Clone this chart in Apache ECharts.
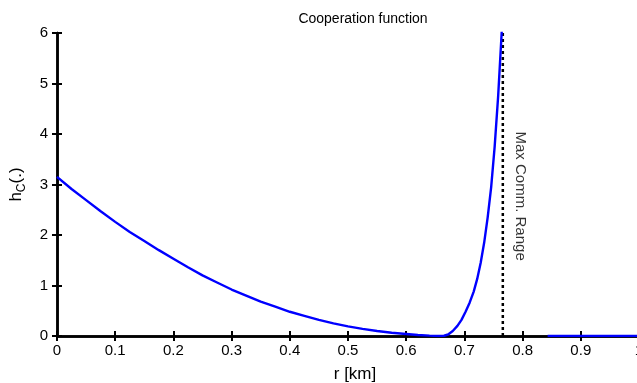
<!DOCTYPE html>
<html>
<head>
<meta charset="utf-8">
<style>html,body{margin:0;padding:0;background:#fff;}#chart{width:637px;height:383px;}</style>
<script src="https://cdn.jsdelivr.net/npm/echarts@6/dist/echarts.min.js"></script>
</head>
<body>
<div id="chart"></div>
<script>
// r [km] values and cooperation function h_C(.)
const rValues = [0, 0.025, 0.05, 0.075, 0.1, 0.125, 0.15, 0.175, 0.2, 0.225, 0.25, 0.275, 0.3, 0.325, 0.35, 0.375, 0.4, 0.425, 0.45, 0.475, 0.5, 0.525, 0.55, 0.575, 0.6, 0.62, 0.64, 0.655, 0.665, 0.672, 0.68, 0.688, 0.695, 0.702, 0.709, 0.716, 0.722, 0.728, 0.734, 0.74, 0.746, 0.752, 0.758, 0.764, 0.772, 0.8, 0.843, 1.0];
const hValues = [3.15, 2.91, 2.69, 2.47, 2.26, 2.06, 1.88, 1.70, 1.53, 1.36, 1.20, 1.06, 0.92, 0.80, 0.68, 0.58, 0.48, 0.40, 0.32, 0.25, 0.19, 0.14, 0.10, 0.065, 0.04, 0.02, 0.007, 0.001, 0.005, 0.03, 0.10, 0.20, 0.32, 0.48, 0.66, 0.88, 1.13, 1.45, 1.85, 2.35, 2.95, 3.75, 4.75, 6.0, 7.6, null, 0, 0];
const maxCommRange = 0.766;
const rangeLabelPos = [0.7955, 2.77];
const xTicks = [0, 0.1, 0.2, 0.3, 0.4, 0.5, 0.6, 0.7, 0.8, 0.9, 1];
const yTicks = [0, 1, 2, 3, 4, 5, 6];

const font = 'Liberation Sans, Arial, Helvetica, sans-serif';
const curve = rValues.map((r, i) => [r, hValues[i]]);

const chart = echarts.init(document.getElementById('chart'), null, {renderer: 'canvas'});
const axisLine = {show: true, lineStyle: {color: '#000', width: 2.5}};
const axisTick = {show: true, inside: true, length: 5, lineStyle: {color: '#000', width: 2}};
chart.setOption({
  animation: false,
  backgroundColor: '#fff',
  title: {
    text: 'Cooperation function',
    left: 358, top: 7, textAlign: 'center',
    textStyle: {fontFamily: font, fontSize: 14, fontWeight: 'normal', color: '#000'}
  },
  grid: {left: 57, right: -2, top: 33, bottom: 47, containLabel: false, outerBoundsMode: 'none'},
  xAxis: [{
    type: 'value', min: xTicks[0], max: xTicks[xTicks.length - 1], interval: 0.1,
    position: 'bottom',
    axisLine, axisTick, splitLine: {show: false},
    axisLabel: {fontFamily: font, fontSize: 15, color: '#000', margin: 7, showMinLabel: true, showMaxLabel: true},
    name: 'r [km]', nameLocation: 'middle', nameGap: 30,
    nameTextStyle: {fontFamily: font, fontSize: 17, color: '#000', padding: [0, 0, 0, 14]}
  }, {
    type: 'value', min: xTicks[0], max: xTicks[xTicks.length - 1], interval: 0.1,
    position: 'top',
    axisLine, axisTick, axisLabel: {show: false}, splitLine: {show: false}
  }],
  yAxis: [{
    type: 'value', min: yTicks[0], max: yTicks[yTicks.length - 1], interval: 1,
    position: 'left',
    axisLine, axisTick, splitLine: {show: false},
    axisLabel: {fontFamily: font, fontSize: 15, color: '#000', margin: 9},
    name: '{a|h}{b|C}{a|(.)}', nameLocation: 'middle', nameGap: 29, nameRotate: 90,
    nameTextStyle: {
      color: '#000',
      rich: {
        a: {fontFamily: font, fontSize: 17, color: '#000', lineHeight: 24, verticalAlign: 'middle'},
        b: {fontFamily: font, fontSize: 12, color: '#000', lineHeight: 12, verticalAlign: 'bottom'}
      }
    }
  }, {
    type: 'value', min: yTicks[0], max: yTicks[yTicks.length - 1], interval: 1,
    position: 'right',
    axisLine, axisTick, axisLabel: {show: false}, splitLine: {show: false}
  }],
  series: [{
    type: 'line',
    data: curve,
    showSymbol: false,
    connectNulls: false,
    clip: true,
    smooth: false,
    lineStyle: {color: '#0000ff', width: 2.4},
    z: 3
  }, {
    type: 'line',
    data: [[maxCommRange, yTicks[0]], [maxCommRange, yTicks[yTicks.length - 1]]],
    showSymbol: false,
    lineStyle: {color: '#000', width: 2.5, type: [3, 3]},
    z: 2
  }, {
    type: 'scatter',
    data: [rangeLabelPos],
    symbolSize: 0,
    label: {
      show: true, position: 'inside', rotate: -90,
      formatter: 'Max Comm. Range',
      fontFamily: font, fontSize: 15, color: '#000'
    },
    z: 4
  }]
});
</script>
</body>
</html>
